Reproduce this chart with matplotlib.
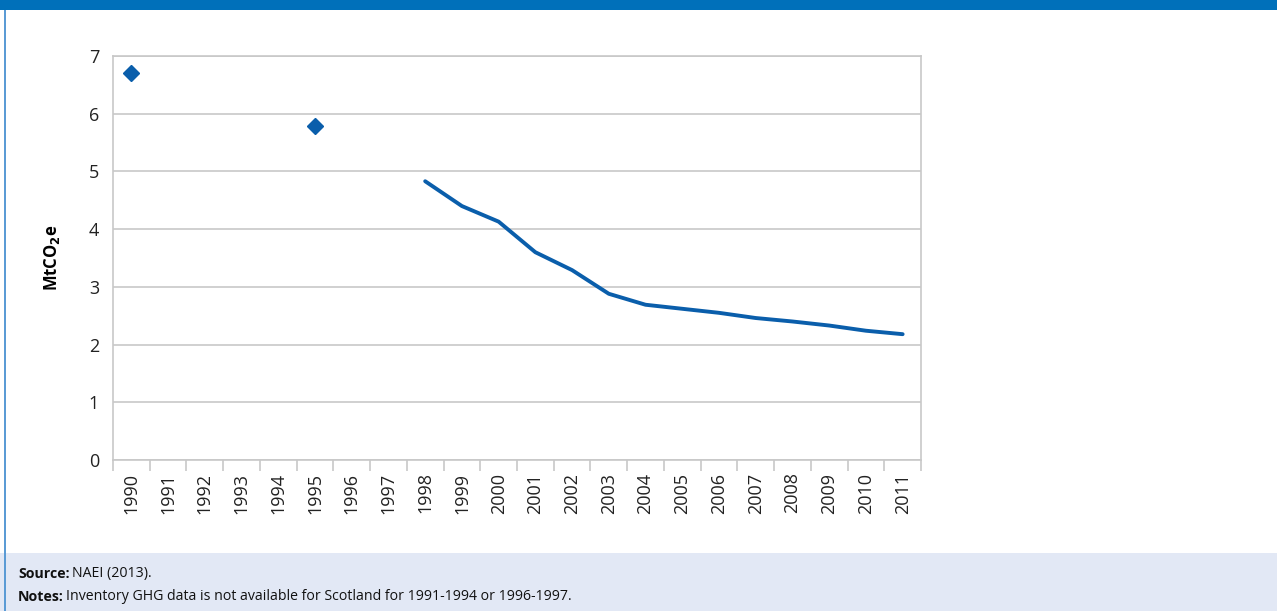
import matplotlib
matplotlib.use("Agg")
import matplotlib.pyplot as plt
from matplotlib.patches import Rectangle
import numpy as np

years = [str(y) for y in range(1990, 2012)]
marker_years = ["1990", "1995"]
marker_values = [6.70, 5.78]
line_years = ["1998", "1999", "2000", "2001", "2002", "2003", "2004", "2005",
              "2006", "2007", "2008", "2009", "2010", "2011"]
line_values = [4.83, 4.40, 4.13, 3.60, 3.29, 2.88, 2.69, 2.62,
               2.55, 2.46, 2.40, 2.33, 2.24, 2.18]
y_ticks = [0, 1, 2, 3, 4, 5, 6, 7]

plt.rcParams['font.family'] = ['Open Sans', 'DejaVu Sans']

W, H = 1277, 611
fig = plt.figure(figsize=(W / 100, H / 100), dpi=100)
fig.patch.set_facecolor('white')

blue = '#0070BA'
line_blue = '#0a5eab'
grid_c = '#c8c8c8'

# header bar
fig.patches.append(Rectangle((0, 1 - 10 / H), 1, 10 / H, transform=fig.transFigure,
                             facecolor=blue, edgecolor='none', zorder=0))
# footer panel
fig.patches.append(Rectangle((0, 0), 1, (H - 553) / H, transform=fig.transFigure,
                             facecolor='#E2E8F5', edgecolor='none', zorder=0))
# left border line
fig.patches.append(Rectangle((3.5 / W, 0), 2 / W, 1 - 10 / H, transform=fig.transFigure,
                             facecolor='#5b9bd5', edgecolor='none', zorder=1))

left, right = 113 / W, 921 / W
bottom, top = 1 - 460 / H, 1 - 56 / H
ax = fig.add_axes([left, bottom, right - left, top - bottom])

idx = {y: i for i, y in enumerate(years)}
ax.plot([idx[y] for y in line_years], line_values, color=line_blue, lw=2.8,
        solid_capstyle='round', solid_joinstyle='round', zorder=3)
ax.plot([idx[y] for y in marker_years], marker_values, linestyle='none', marker='D',
        markersize=8.5, color=line_blue, markeredgecolor=line_blue, zorder=3)

ax.set_xlim(-0.5, len(years) - 0.5)
ax.set_ylim(0, 7)
ax.set_yticks(y_ticks)
ax.set_yticklabels([str(v) for v in y_ticks])
ax.yaxis.grid(True, color=grid_c, lw=1.2)
ax.set_axisbelow(True)
for s in ax.spines.values():
    s.set_color(grid_c)
    s.set_linewidth(1.2)

ax.set_xticks(np.arange(len(years)))
ax.set_xticklabels(years, rotation=90, fontsize=13, color='#222222')
ax.tick_params(axis='x', which='major', length=0, pad=9)
ax.set_xticks(np.arange(-0.5, len(years)), minor=True)
ax.tick_params(axis='x', which='minor', length=8, color=grid_c, width=1.2)
ax.tick_params(axis='y', length=0, pad=10, labelsize=13, labelcolor='#222222')

fig.text(52 / W, 1 - 258 / H, r'MtCO$_\mathbf{2}$e', fontsize=12, fontweight='bold',
         rotation=90, ha='center', va='center')

fs = 10.2
renderer = fig.canvas.get_renderer()


def label_line(x_px, y_px, bold_part, rest):
    t = fig.text(x_px / W, 1 - y_px / H, bold_part, fontsize=fs, fontweight='bold',
                 va='center', color='#111111')
    bb = t.get_window_extent(renderer=renderer)
    fig.text((bb.x1 + 2) / W, 1 - y_px / H, rest, fontsize=fs, va='center', color='#111111')


label_line(18, 574, 'Source:', 'NAEI (2013).')
label_line(18, 597, 'Notes:', 'Inventory GHG data is not available for Scotland for 1991-1994 or 1996-1997.')

fig.savefig('out.png', dpi=100)
